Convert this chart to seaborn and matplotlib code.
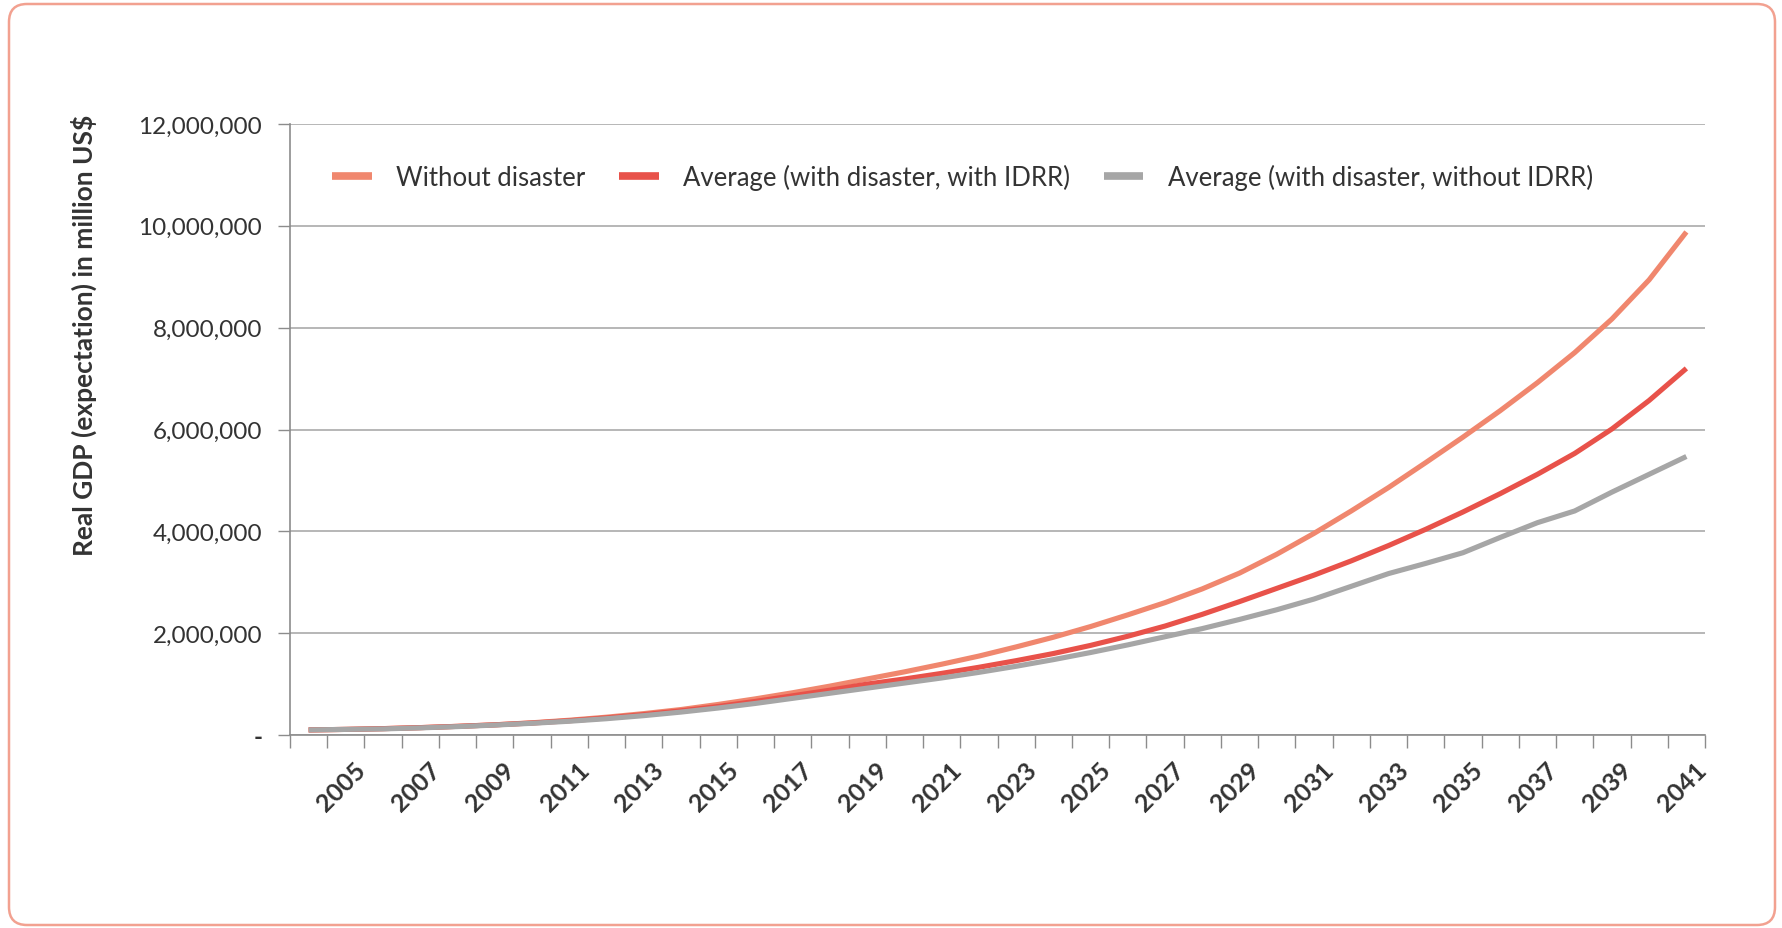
import matplotlib
matplotlib.use("Agg")
import matplotlib.pyplot as plt
import matplotlib.ticker as mticker
from matplotlib.patches import FancyBboxPatch
from matplotlib.transforms import IdentityTransform, ScaledTranslation
from matplotlib.lines import Line2D
import numpy as np
import pandas as pd
import seaborn as sns

# Projected real GDP, million US$
years = list(range(2004, 2042))

without_disaster = [
    100_000, 110_000, 125_000, 145_000, 170_000, 200_000, 240_000, 290_000,
    350_000, 420_000, 500_000, 600_000, 710_000, 830_000, 960_000, 1_100_000,
    1_240_000, 1_390_000, 1_550_000, 1_730_000, 1_920_000, 2_130_000, 2_360_000,
    2_600_000, 2_870_000, 3_180_000, 3_550_000, 3_960_000, 4_400_000, 4_860_000,
    5_350_000, 5_850_000, 6_370_000, 6_920_000, 7_510_000, 8_170_000, 8_940_000,
    9_880_000,
]

with_idrr = [
    100_000, 110_000, 125_000, 145_000, 170_000, 200_000, 235_000, 280_000,
    335_000, 400_000, 475_000, 560_000, 660_000, 770_000, 880_000, 1_000_000,
    1_100_000, 1_210_000, 1_330_000, 1_460_000, 1_600_000, 1_760_000, 1_940_000,
    2_140_000, 2_370_000, 2_620_000, 2_880_000, 3_140_000, 3_420_000, 3_720_000,
    4_040_000, 4_380_000, 4_740_000, 5_120_000, 5_530_000, 6_010_000, 6_570_000,
    7_200_000,
]

without_idrr = [
    100_000, 110_000, 120_000, 140_000, 165_000, 195_000, 230_000, 270_000,
    320_000, 380_000, 450_000, 530_000, 620_000, 720_000, 820_000, 920_000,
    1_020_000, 1_120_000, 1_230_000, 1_350_000, 1_480_000, 1_620_000, 1_770_000,
    1_930_000, 2_090_000, 2_270_000, 2_460_000, 2_670_000, 2_920_000, 3_170_000,
    3_370_000, 3_580_000, 3_880_000, 4_170_000, 4_400_000, 4_770_000, 5_120_000,
    5_470_000,
]

series_names = [
    "Without disaster",
    "Average (with disaster, with IDRR)",
    "Average (with disaster, without IDRR)",
]
series_colors = ["#F0876E", "#E8524A", "#A6A6A6"]

y_ticks = [0, 2_000_000, 4_000_000, 6_000_000, 8_000_000, 10_000_000, 12_000_000]
label_years = list(range(2005, 2042, 2))

df = pd.concat(
    [
        pd.DataFrame({"year": years, "gdp": vals, "series": name})
        for name, vals in zip(series_names, [without_disaster, with_idrr, without_idrr])
    ],
    ignore_index=True,
)

sns.set_style("white")
plt.rcParams["font.family"] = ["Lato", "DejaVu Sans"]
text_color = "#333333"
axis_color = "#8C8C8C"

fig = plt.figure(figsize=(17.82, 9.29), dpi=100)
fig.patch.set_facecolor("white")

# rounded outer frame
frame = FancyBboxPatch(
    (9, 3), 1766, 921,
    boxstyle="round,pad=0,rounding_size=18",
    transform=IdentityTransform(),
    facecolor="none", edgecolor="#F2A190", linewidth=1.8,
)
fig.add_artist(frame)

ax = fig.add_axes([290 / 1782, 1 - 736 / 929, 1415 / 1782, 611 / 929])

sns.lineplot(
    data=df, x="year", y="gdp", hue="series", hue_order=series_names,
    palette=dict(zip(series_names, series_colors)), linewidth=3.7,
    ax=ax, legend=False,
)
for line in ax.get_lines():
    line.set_solid_capstyle("butt")

ax.set_xlim(2003.5, 2041.5)
ax.set_ylim(0, 12_000_000)

# y axis
ax.set_yticks(y_ticks)
ax.yaxis.set_major_formatter(
    mticker.FuncFormatter(lambda v, _: "-" if v == 0 else f"{v:,.0f}")
)
ax.grid(axis="y", color="#A3A3A3", linewidth=1.1)
ax.grid(axis="x", visible=False)
ax.tick_params(axis="y", which="major", length=9, width=1.0, color=axis_color,
               pad=11, labelsize=17.5, labelcolor=text_color, left=True)
ax.get_yticklabels()[0].set_fontweight("bold")

# x axis: tick marks between categories, labels on odd years
ax.set_xticks(label_years)
ax.set_xticklabels([str(y) for y in label_years], rotation=45, ha="right",
                   rotation_mode="anchor", fontweight="bold")
ax.set_xticks(np.arange(2003.5, 2042.0, 1.0), minor=True)
ax.tick_params(axis="x", which="major", length=0, pad=16, labelsize=18,
               labelcolor=text_color, bottom=True)
ax.tick_params(axis="x", which="minor", length=9, width=1.0, color=axis_color,
               bottom=True)
shift = ScaledTranslation(8 / 100, 0, fig.dpi_scale_trans)
for lbl in ax.get_xticklabels():
    lbl.set_transform(lbl.get_transform() + shift)

for side in ["top", "right"]:
    ax.spines[side].set_visible(False)
for side in ["left", "bottom"]:
    ax.spines[side].set_color(axis_color)
    ax.spines[side].set_linewidth(1.2)
ax.set_xlabel("")
ax.set_ylabel("")

fig.text(84 / 1782, 1 - 335 / 929, "Real GDP (expectation) in million US$",
         rotation=90, ha="center", va="center", fontsize=19,
         fontweight="bold", color=text_color)

handles = [Line2D([], [], color=c, linewidth=5.5, solid_capstyle="butt")
           for c in series_colors]
ax.legend(handles, series_names, loc="center left",
          bbox_to_anchor=((332 - 290) / 1415, 1 - (178 - 125) / 611),
          ncol=3, frameon=False, fontsize=18.5, handlelength=1.55,
          handletextpad=0.95, columnspacing=1.3, borderpad=0, borderaxespad=0,
          labelcolor=text_color)

fig.savefig("out.png", dpi=100, facecolor="white")
